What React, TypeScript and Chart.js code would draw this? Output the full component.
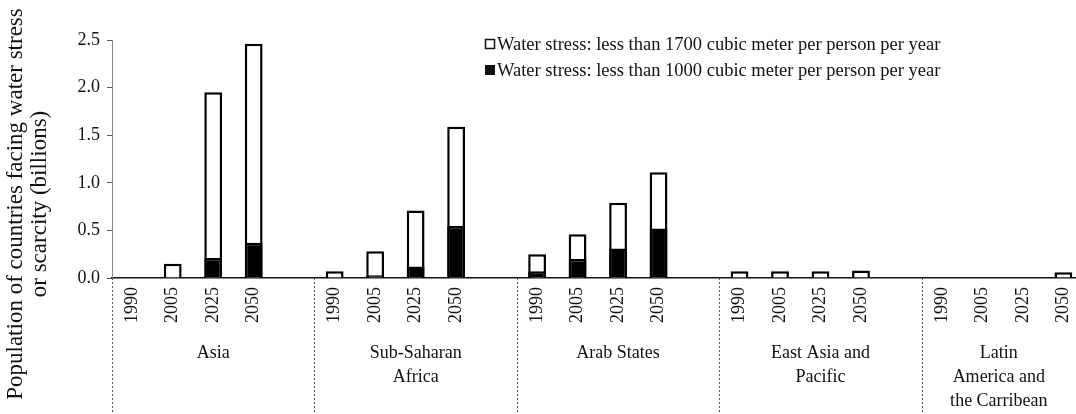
import React, { useEffect, useRef } from 'react';
import { Chart, registerables } from 'chart.js';

Chart.register(...registerables);

const years = ['1990', '2005', '2025', '2050'];
const regions = [
  ['Asia'],
  ['Sub-Saharan', 'Africa'],
  ['Arab States'],
  ['East Asia and', 'Pacific'],
  ['Latin', 'America and', 'the Carribean'],
];
// population (billions) in countries below 1700 m3/person/year, per region x year
const stress1700 = [
  0, 0.15, 1.95, 2.46,
  0.07, 0.28, 0.71, 1.59,
  0.25, 0.46, 0.79, 1.11,
  0.07, 0.07, 0.07, 0.08,
  0, 0, 0, 0.06,
];
// population (billions) in countries below 1000 m3/person/year
const scarcity1000 = [
  0, 0, 0.21, 0.37,
  0, 0.03, 0.12, 0.55,
  0.07, 0.2, 0.31, 0.52,
  0, 0, 0, 0,
  0, 0, 0, 0,
];
const yTicks = [0, 0.5, 1.0, 1.5, 2.0, 2.5];
const legendLabels = [
  'Water stress: less than 1700 cubic meter per person per year',
  'Water stress: less than 1000 cubic meter per person per year',
];
const yTitle = ['Population of countries facing water stress', 'or scarcity (billions)'];

const FONT = "'Liberation Serif', 'Times New Roman', serif";
const VIEW_W = 1076;

// Build category slots: 4 years per region, with an empty gap slot between regions
const slotLabels: string[] = [];
const slot1700: (number | null)[] = [];
const slot1000: (number | null)[] = [];
const groupStart: number[] = [];
regions.forEach((_, g) => {
  groupStart.push(slotLabels.length);
  years.forEach((y, i) => {
    slotLabels.push(y);
    const v = stress1700[g * years.length + i];
    const b = scarcity1000[g * years.length + i];
    slot1700.push(v > 0 ? v : null);
    slot1000.push(b > 0 ? b : null);
  });
  if (g < regions.length - 1) {
    slotLabels.push('');
    slot1700.push(null);
    slot1000.push(null);
  }
});

const overlayPlugin = {
  id: 'overlayPlugin',
  afterDraw(chart: any) {
    const { ctx } = chart;
    const x = chart.scales.x;
    const y = chart.scales.y;
    const slot = (x.right - x.left) / slotLabels.length;
    const base = y.getPixelForValue(0);
    const bottom = chart.height;
    ctx.save();
    // group separators
    ctx.strokeStyle = '#555';
    ctx.lineWidth = 1;
    ctx.setLineDash([2, 2]);
    groupStart.forEach((s) => {
      const px = Math.round(x.left + s * slot) + 0.5;
      ctx.beginPath();
      ctx.moveTo(px, base);
      ctx.lineTo(px, bottom);
      ctx.stroke();
    });
    ctx.setLineDash([]);
    // group labels
    ctx.fillStyle = '#111';
    ctx.font = `18px ${FONT}`;
    ctx.textAlign = 'center';
    ctx.textBaseline = 'middle';
    regions.forEach((lines, g) => {
      const left = x.left + groupStart[g] * slot;
      const end = g < regions.length - 1 ? groupStart[g + 1] : slotLabels.length;
      const right = Math.min(x.left + end * slot, VIEW_W);
      const cx = (left + right) / 2;
      lines.forEach((t, i) => {
        ctx.fillText(t, cx, 353 + i * 24);
      });
    });
    // y title
    ctx.font = `23px ${FONT}`;
    ctx.textAlign = 'center';
    ctx.textBaseline = 'middle';
    const titleX = [16, 40];
    yTitle.forEach((t, i) => {
      ctx.save();
      ctx.translate(titleX[i], 204);
      ctx.rotate(-Math.PI / 2);
      ctx.fillText(t, 0, 0);
      ctx.restore();
    });
    // legend
    ctx.font = `18.5px ${FONT}`;
    ctx.textAlign = 'left';
    ctx.textBaseline = 'middle';
    const ly = [44, 70];
    const mx = 485;
    legendLabels.forEach((t, i) => {
      const yy = ly[i];
      if (i === 0) {
        ctx.fillStyle = '#fff';
        ctx.fillRect(mx, yy - 5, 10, 10);
        ctx.strokeStyle = '#111';
        ctx.lineWidth = 1.5;
        ctx.strokeRect(mx + 0.5, yy - 4.5, 9, 9);
      } else {
        ctx.fillStyle = '#111';
        ctx.fillRect(mx, yy - 5, 10, 10);
      }
      ctx.fillStyle = '#111';
      ctx.fillText(t, mx + 12, yy + 1);
    });
    ctx.restore();
  },
};

export default function App() {
  const ref = useRef<HTMLCanvasElement>(null);
  useEffect(() => {
    if (!ref.current) return;
    const chart = new Chart(ref.current, {
      type: 'bar',
      data: {
        labels: slotLabels,
        datasets: [
          {
            label: legendLabels[1],
            data: slot1000,
            backgroundColor: '#000',
            borderColor: '#000',
            borderWidth: 2.5,
            stack: 's',
            barPercentage: 0.44,
            categoryPercentage: 1,
          },
          {
            label: legendLabels[0],
            data: slot1700,
            backgroundColor: '#fff',
            borderColor: '#000',
            borderWidth: 2.5,
            stack: 's',
            barPercentage: 0.44,
            categoryPercentage: 1,
          },
        ],
      },
      options: {
        responsive: false,
        animation: false,
        layout: { padding: { top: 40, left: 0, right: 0, bottom: 0 } },
        plugins: {
          legend: { display: false },
          tooltip: { enabled: false },
          title: { display: false },
        },
        scales: {
          x: {
            stacked: true,
            offset: true,
            grid: { display: false, drawTicks: false },
            border: { display: true, color: '#111', width: 1.5 },
            ticks: {
              autoSkip: false,
              minRotation: 90,
              maxRotation: 90,
              padding: 9,
              color: '#111',
              font: { family: FONT, size: 18 },
            },
            afterFit: (s: any) => {
              s.height = 136;
            },
          },
          y: {
            stacked: false,
            min: 0,
            max: 2.5,
            grid: { drawOnChartArea: false, drawTicks: true, tickLength: 5, color: '#555' },
            border: { display: true, color: '#888', width: 1, dash: [2, 2] },
            ticks: {
              padding: 7,
              color: '#111',
              font: { family: FONT, size: 18 },
              callback: (v: any) => Number(v).toFixed(1),
            },
            afterBuildTicks: (s: any) => {
              s.ticks = yTicks.map((v) => ({ value: v }));
            },
            afterFit: (s: any) => {
              s.width = 112;
            },
          },
        },
      },
      plugins: [overlayPlugin],
    });
    return () => chart.destroy();
  }, []);
  return (
    <div
      style={{
        position: 'fixed',
        left: 0,
        top: 0,
        width: VIEW_W,
        height: 414,
        overflow: 'hidden',
        background: '#fff',
      }}
    >
      <canvas ref={ref} width={1094} height={414} style={{ width: 1094, height: 414, display: 'block' }} />
    </div>
  );
}
